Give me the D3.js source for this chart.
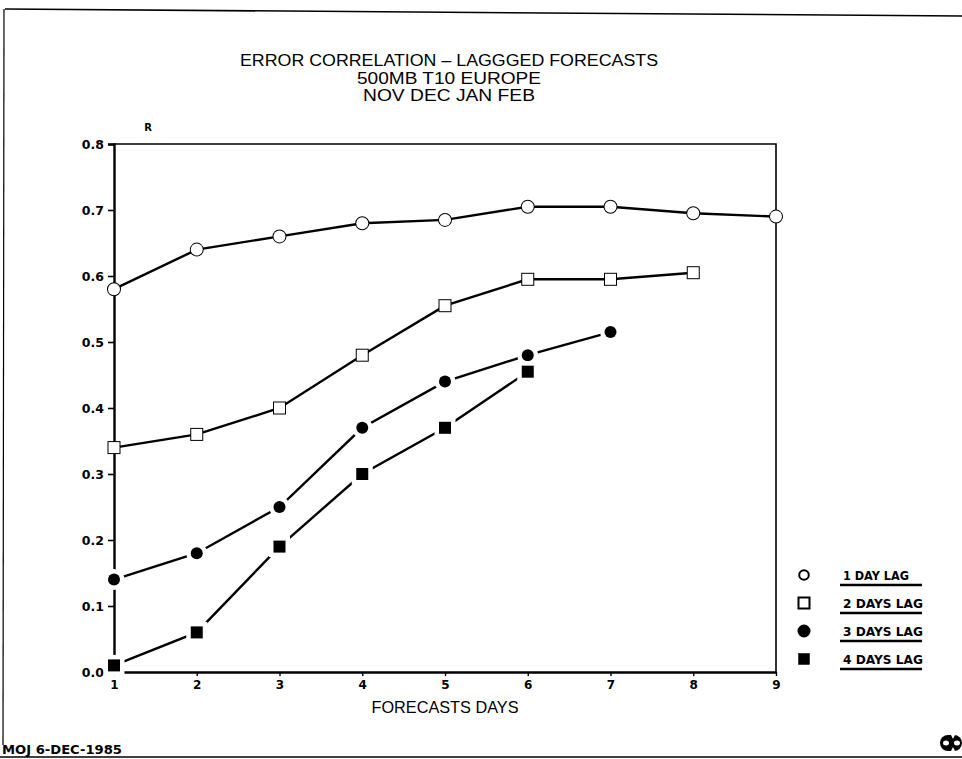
<!DOCTYPE html>
<html><head><meta charset="utf-8">
<script src="https://cdn.jsdelivr.net/npm/d3@7"></script>
<style>body{margin:0;background:#fff}svg{display:block}</style>
</head><body><svg id="c" width="962" height="759"></svg>
<script>
const days = [1,2,3,4,5,6,7,8,9];
const lag1 = [0.58,0.64,0.66,0.68,0.685,0.705,0.705,0.695,0.69];
const lag2 = [0.34,0.36,0.40,0.48,0.555,0.595,0.595,0.605];
const lag3 = [0.14,0.18,0.25,0.37,0.44,0.48,0.515];
const lag4 = [0.01,0.06,0.19,0.30,0.37,0.455];
const seriesNames = ["1 DAY LAG","2 DAYS LAG","3 DAYS LAG","4 DAYS LAG"];
const yTicks = [0.0,0.1,0.2,0.3,0.4,0.5,0.6,0.7,0.8];
const titleLines = ["ERROR CORRELATION \u2013 LAGGGED FORECASTS","500MB T10 EUROPE","NOV DEC JAN FEB"];
const xTitle = "FORECASTS DAYS";
const yTitle = "R";
const footer = "MOJ 6-DEC-1985";

const SANS = "'Liberation Sans', Arial, sans-serif";
const BOLD = "'DejaVu Sans', sans-serif";
const svg = d3.select("#c");
const L=114,R=776,T=144,B=672;
const x = d3.scaleLinear().domain([1,9]).range([L,R]);
const y = d3.scaleLinear().domain([0,0.8]).range([B,T]);

// page frame (scan border)
svg.append("line").attr("x1",5).attr("y1",9).attr("x2",962).attr("y2",16).attr("stroke","#000").attr("stroke-width",1.6);
svg.append("line").attr("x1",4).attr("y1",9).attr("x2",3).attr("y2",745).attr("stroke","#000").attr("stroke-width",1.2);
svg.append("line").attr("x1",0).attr("y1",757).attr("x2",962).attr("y2",757).attr("stroke","#000").attr("stroke-width",1.4);

// titles
const tw = [418, 184, 172];
titleLines.forEach((t,i)=>{
  svg.append("text").attr("x",449).attr("y",66+i*17.7).attr("text-anchor","middle")
    .style("font-family",SANS).style("font-size","16px")
    .attr("textLength",tw[i]).attr("lengthAdjust","spacingAndGlyphs").text(t);
});

// plot frame
svg.append("path").attr("d",`M${L},${T}H${R}V${B}`).attr("fill","none").attr("stroke","#000").attr("stroke-width",1.6);

// axes
const yAxis = d3.axisLeft(y).tickValues(yTicks).tickFormat(d3.format(".1f")).tickSize(6).tickPadding(4);
const gy = svg.append("g").attr("transform",`translate(${L},0)`).call(yAxis);
gy.select(".domain").attr("stroke-width",2.4);
gy.selectAll(".tick line").attr("stroke-width",1.6);
gy.selectAll("text").style("font-size","12.5px").style("font-weight","bold").style("font-family",BOLD);

const xAxis = d3.axisBottom(x).tickValues(days).tickFormat(d3.format("d")).tickSize(4).tickPadding(4).tickSizeOuter(0);
const gx = svg.append("g").attr("transform",`translate(0,${B})`).call(xAxis);
gx.select(".domain").attr("stroke-width",2.4);
gx.selectAll(".tick line").attr("stroke-width",1.4);
gx.selectAll("text").style("font-size","12px").style("font-weight","bold").style("font-family",BOLD);

svg.append("text").attr("x",148).attr("y",131).attr("text-anchor","middle").style("font-size","10px").style("font-weight","bold").style("font-family",BOLD).text(yTitle);
svg.append("text").attr("x",445).attr("y",713).attr("text-anchor","middle").style("font-size","16.5px").style("font-family",SANS)
  .attr("textLength",147).attr("lengthAdjust","spacingAndGlyphs").text(xTitle);

// series
const series = [
  {vals:lag1, shape:"circle", filled:false},
  {vals:lag2, shape:"square", filled:false},
  {vals:lag3, shape:"circle", filled:true},
  {vals:lag4, shape:"square", filled:true}
];
const line = d3.line().x((d,i)=>x(days[i])).y(d=>y(d));
series.forEach(s=>{
  svg.append("path").datum(s.vals).attr("d",line).attr("fill","none").attr("stroke","#000").attr("stroke-width",2.4);
});
function marker(g,shape,filled,cx,cy){
  const haloW = filled?9:2;
  if(shape==="circle"){
    g.append("circle").attr("cx",cx).attr("cy",cy).attr("r",6)
      .attr("fill",filled?"#000":"#fff").attr("stroke",filled?"#fff":"#000")
      .attr("stroke-width",haloW).attr("paint-order","stroke");
  } else {
    const s = filled?12:11;
    g.append("rect").attr("x",cx-s/2).attr("y",cy-s/2).attr("width",s).attr("height",s)
      .attr("fill",filled?"#000":"#fff").attr("stroke",filled?"#fff":"#000")
      .attr("stroke-width",haloW).attr("paint-order","stroke");
  }
}
series.forEach(s=>{
  const g = svg.append("g");
  s.vals.forEach((v,i)=>marker(g,s.shape,s.filled,x(days[i]),y(v)));
});

// legend
const lw = [66, 80, 80, 80];
seriesNames.forEach((n,i)=>{
  const ly = 575+i*28;
  const s = series[i];
  const g = svg.append("g");
  if(s.shape==="circle"){
    g.append("circle").attr("cx",804).attr("cy",ly).attr("r",s.filled?5.5:4.8)
      .attr("fill",s.filled?"#000":"#fff").attr("stroke","#000").attr("stroke-width",2);
  } else {
    g.append("rect").attr("x",798.5).attr("y",ly-5.5).attr("width",11).attr("height",11)
      .attr("fill",s.filled?"#000":"#fff").attr("stroke","#000").attr("stroke-width",s.filled?0.5:2);
  }
  g.append("text").attr("x",843).attr("y",ly+5).style("font-size","13px").style("font-weight","bold")
    .style("font-family",BOLD).attr("textLength",lw[i]).attr("lengthAdjust","spacingAndGlyphs").text(n);
  g.append("line").attr("x1",840).attr("x2",922).attr("y1",ly+10).attr("y2",ly+10).attr("stroke","#000").attr("stroke-width",2.4);
});

// footer
svg.append("text").attr("x",2).attr("y",754).style("font-size","12px").style("font-weight","bold").style("font-family",BOLD)
  .attr("textLength",120).attr("lengthAdjust","spacingAndGlyphs").text(footer);
// logo
svg.append("rect").attr("x",940).attr("y",735).attr("width",22).attr("height",16).attr("rx",8).attr("fill","#000");
svg.append("ellipse").attr("cx",946).attr("cy",743).attr("rx",3).attr("ry",2.5).attr("fill","#fff");
svg.append("ellipse").attr("cx",957).attr("cy",743).attr("rx",3).attr("ry",2.5).attr("fill","#fff");
svg.append("path").attr("d","M951,735 L953,739 L955,735 Z M951,751 L953,747 L955,751 Z").attr("fill","#fff");
</script></body></html>
